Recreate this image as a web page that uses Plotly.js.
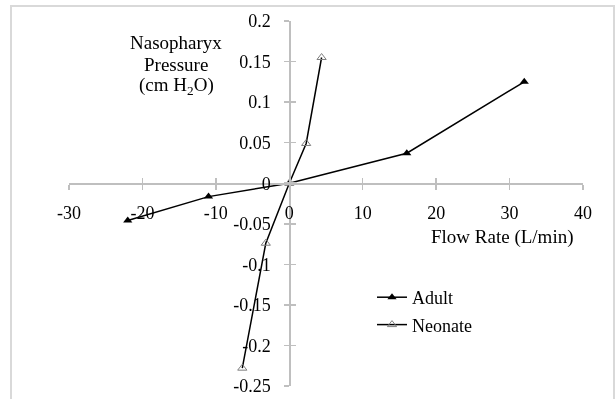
<!DOCTYPE html>
<html><head><meta charset="utf-8">
<script src="https://cdn.plot.ly/plotly-3.0.1.min.js"></script>
<style>html,body{margin:0;padding:0;background:#fff}#c{width:616px;height:399px}</style>
</head><body><div id="c"></div>
<script>
const adultX = [-22, -11, 0, 16, 32];
const adultY = [-0.046, -0.0165, 0, 0.037, 0.125];
const neonateX = [-6.4, -3.2, 0, 2.3, 4.4];
const neonateY = [-0.228, -0.074, 0, 0.049, 0.155];
const seriesNames = ['Adult', 'Neonate'];
const xTicks = [-30, -20, -10, 0, 10, 20, 30, 40];
const yTicks = [-0.25, -0.2, -0.15, -0.1, -0.05, 0, 0.05, 0.1, 0.15, 0.2];
const yTickText = yTicks.map(v => String(v));
const yTitleLines = ['Nasopharyx', 'Pressure', '(cm H<sub>2</sub>O)'];
const xTitle = 'Flow Rate (L/min)';

const W = 616, H = 399, L = 69, R = 33, T = 21, B = 13;
const pw = W - L - R, ph = H - T - B;
const px = v => (v - L) / pw;
const py = v => 1 - (v - T) / ph;
const xr = [-30, 40], yr = [-0.25, 0.2];
const xPos = (0 - yr[0]) / (yr[1] - yr[0]);
const yPos = (0 - xr[0]) / (xr[1] - xr[0]);
const font = {family: '"Liberation Serif", "Times New Roman", serif', size: 18, color: '#000'};
const titleFont = {family: font.family, size: 19, color: '#000'};
const axCol = '#bfbfbf';

const traces = [
  {x: adultX, y: adultY, name: seriesNames[0], mode: 'lines+markers', type: 'scatter',
   line: {color: '#000', width: 1.5}, marker: {symbol: 'triangle-up', size: 8, color: '#000'},
   legendgroup: 'a'},
  {x: neonateX, y: neonateY, name: seriesNames[1], mode: 'lines+markers', type: 'scatter',
   line: {color: '#000', width: 1.5}, marker: {symbol: 'triangle-up-open', size: 8, color: '#7f7f7f', line: {width: 1}},
   legendgroup: 'b'},
  {x: adultX, y: adultY, xaxis: 'x2', yaxis: 'y2', mode: 'markers', opacity: 0, showlegend: false, hoverinfo: 'skip', type: 'scatter'}
];

const baseX = {range: xr, showgrid: false, zeroline: false, showline: true, linecolor: axCol, linewidth: 1.5,
  tickmode: 'array', tickvals: xTicks, ticktext: xTicks.map(String), ticklen: 5, tickcolor: axCol, tickwidth: 1.5,
  fixedrange: true};
const baseY = {range: yr, showgrid: false, zeroline: false, showline: true, linecolor: axCol, linewidth: 1.5,
  tickmode: 'array', tickvals: yTicks, ticktext: yTickText, ticklen: 5, tickcolor: axCol, tickwidth: 1.5,
  fixedrange: true};

const titleY = [43, 65, 86];
const annotations = yTitleLines.map((t, i) => ({xref: 'paper', yref: 'paper', x: px(176), y: py(titleY[i]),
  xanchor: 'center', yanchor: 'middle', showarrow: false, text: t, font: titleFont}));
annotations.push({xref: 'paper', yref: 'paper', x: px(502), y: py(237), xanchor: 'center', yanchor: 'middle',
  showarrow: false, text: xTitle, font: titleFont});

const layout = {
  width: W, height: H,
  margin: {l: L, r: R, t: T, b: B},
  paper_bgcolor: '#fff', plot_bgcolor: 'rgba(0,0,0,0)',
  font: font,
  showlegend: true,
  legend: {x: px(372), y: py(279), xanchor: 'left', yanchor: 'top', font: font, tracegroupgap: 1,
    bgcolor: 'rgba(0,0,0,0)'},
  xaxis: Object.assign({}, baseX, {anchor: 'free', position: xPos, ticks: 'outside', tickfont: font, ticklabelstandoff: 8}),
  yaxis: Object.assign({}, baseY, {anchor: 'free', position: yPos, ticks: 'outside', tickfont: font, ticklabelstandoff: 10}),
  xaxis2: Object.assign({}, baseX, {overlaying: 'x', anchor: 'free', position: xPos, ticks: 'inside', showticklabels: false}),
  yaxis2: Object.assign({}, baseY, {overlaying: 'y', anchor: 'free', position: yPos, ticks: 'inside', showticklabels: false}),
  annotations: annotations,
  shapes: [
    {type: 'rect', xref: 'paper', yref: 'paper', x0: px(11), x1: px(614), y0: py(410), y1: py(6),
     line: {color: '#d9d9d9', width: 2}, layer: 'below'}
  ]
};

Plotly.newPlot('c', traces, layout, {staticPlot: true, displayModeBar: false});
</script></body></html>
